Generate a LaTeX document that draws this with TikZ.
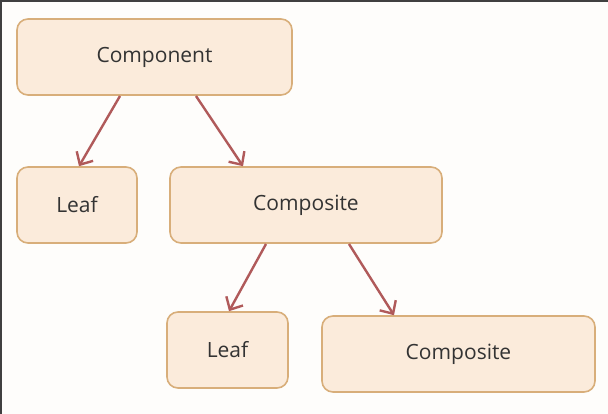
\documentclass[tikz,border=0pt]{standalone}
\usepackage{fontspec}
\setmainfont{Open Sans}
\usetikzlibrary{arrows.meta}
\definecolor{boxfill}{HTML}{FBEBDB}
\definecolor{boxline}{HTML}{D8AE7A}
\definecolor{arrowc}{HTML}{B05A5A}
\definecolor{bgc}{HTML}{FEFDFB}
\begin{document}
\begin{tikzpicture}[x=1pt,y=-1pt,
  box/.style={draw=boxline, fill=boxfill, line width=1.6pt, rounded corners=11pt, font=\fontsize{21}{24}\selectfont, text=black!80},
  conn/.style={draw=arrowc, line width=2.4pt, -{Straight Barb[length=10pt,width=19pt,line width=2.4pt]}}]
\fill[bgc] (0,0) rectangle (608,414);
\useasboundingbox (0,0) rectangle (608,414);
\fill[black!75] (0,0) rectangle (608,2.5);
\fill[black!75] (0,0) rectangle (1.5,414);
\node[box, minimum width=275pt, minimum height=76pt] (comp) at (154.5,57) {Component};
\node[box, minimum width=120pt, minimum height=76pt] (leaf1) at (77,205) {Leaf};
\node[box, minimum width=272pt, minimum height=76pt] (cps1) at (306,205) {Composite};
\node[box, minimum width=121pt, minimum height=76pt] (leaf2) at (227.5,350) {Leaf};
\node[box, minimum width=273pt, minimum height=76pt] (cps2) at (458.5,354) {Composite};
\coordinate (a1) at (120,96);
\coordinate (a2) at (196,96);
\coordinate (b1) at (266,244);
\coordinate (b2) at (349,244);
\draw[conn] (a1) -- (leaf1.north -| 79,0);
\draw[conn] (a2) -- (cps1.north -| 243,0);
\draw[conn] (b1) -- (leaf2.north -| 229,0);
\draw[conn] (b2) -- (cps2.north -| 394,0);
\end{tikzpicture}
\end{document}
